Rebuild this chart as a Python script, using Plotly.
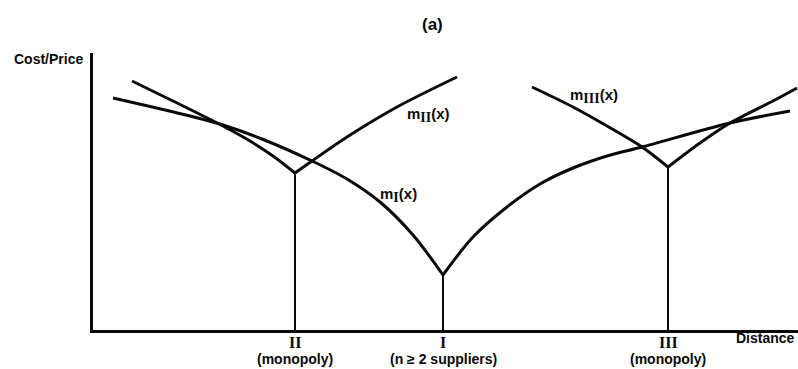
import plotly.graph_objects as go

# Market locations along the distance axis
loc_names = ["II", "I", "III"]
loc_notes = ["(monopoly)", "(n \u2265 2 suppliers)", "(monopoly)"]
loc_x = [202, 350, 575]
loc_price = [157, 55, 163]

# Delivered price schedules, split into left and right branches at each market
m2_left_x = [39, 80, 130, 157, 180, 202]
m2_left_y = [249, 229, 204, 189, 174, 157]
m2_right_x = [202, 219, 254, 304, 364]
m2_right_y = [157, 169, 193, 223, 253]

m1_left_x = [20, 97, 130, 169, 219, 254, 287, 320, 350]
m1_left_y = [232, 214, 205, 191, 169, 151, 128, 95, 55]
m1_right_x = [350, 380, 414, 447, 480, 514, 549, 637, 697]
m1_right_y = [55, 93, 123, 146, 162, 174, 183, 207, 219]

m3_left_x = [439, 480, 514, 549, 575]
m3_left_y = [243, 223, 204, 183, 163]
m3_right_x = [575, 607, 637, 680, 704]
m3_right_y = [163, 187, 207, 229, 242]

X_MAX, Y_MAX = 705, 277

INK = "#0a0a0a"
SANS = "Liberation Sans, Arial, sans-serif"
SERIF = "Liberation Serif, Times New Roman, serif"

fig = go.Figure()

branches = [
    (m2_left_x, m2_left_y), (m2_right_x, m2_right_y),
    (m1_left_x, m1_left_y), (m1_right_x, m1_right_y),
    (m3_left_x, m3_left_y), (m3_right_x, m3_right_y),
]
for bx, by in branches:
    fig.add_trace(go.Scatter(
        x=bx, y=by, mode="lines",
        line=dict(color=INK, width=3, shape="spline", smoothing=0.9),
        hoverinfo="skip", showlegend=False,
    ))

# Vertical drop lines from each market's mill price to the axis
for lx, lp in zip(loc_x, loc_price):
    fig.add_trace(go.Scatter(
        x=[lx, lx], y=[0, lp], mode="lines",
        line=dict(color=INK, width=2),
        hoverinfo="skip", showlegend=False,
    ))


def note(x, y, text, family, size, xanchor="center"):
    # place text in paper space so it can sit outside the plotting area
    return dict(x=x / X_MAX, y=y / Y_MAX, xref="paper", yref="paper",
                text=text, showarrow=False,
                font=dict(family=family, size=size, color=INK),
                xanchor=xanchor, yanchor="middle")


ann = []
for name, sub_note, lx in zip(loc_names, loc_notes, loc_x):
    ann.append(note(lx, -12, f"<b>{name}</b>", SERIF, 16))
    ann.append(note(lx, -29, f"<b>{sub_note}</b>", SANS, 14))


def curve_label(sub):
    return (f"<b>m<sub><span style='font-family:{SERIF};font-size:14px'>{sub}</span>"
            f"</sub>(x)</b>")


ann += [
    note(312, 215, curve_label("II"), SANS, 15, "left"),
    note(285, 135, curve_label("I"), SANS, 15, "left"),
    note(475, 234, curve_label("III"), SANS, 15, "left"),
    note(339, 306, "<b>(a)</b>", SANS, 17),
    note(-8, 271, "<b>Cost/Price</b>", SANS, 14, "right"),
    note(704, -8, "<b>Distance</b>", SANS, 14, "right"),
]

fig.update_layout(
    width=798, height=369,
    margin=dict(l=93, r=0, t=53, b=39),
    paper_bgcolor="white", plot_bgcolor="white",
    annotations=ann,
    xaxis=dict(range=[0, X_MAX], showgrid=False, zeroline=False, showticklabels=False,
               ticks="", showline=True, linecolor=INK, linewidth=2.5, fixedrange=True),
    yaxis=dict(range=[0, Y_MAX], showgrid=False, zeroline=False, showticklabels=False,
               ticks="", showline=True, linecolor=INK, linewidth=2.5, fixedrange=True),
)

fig.write_html("out.html")
